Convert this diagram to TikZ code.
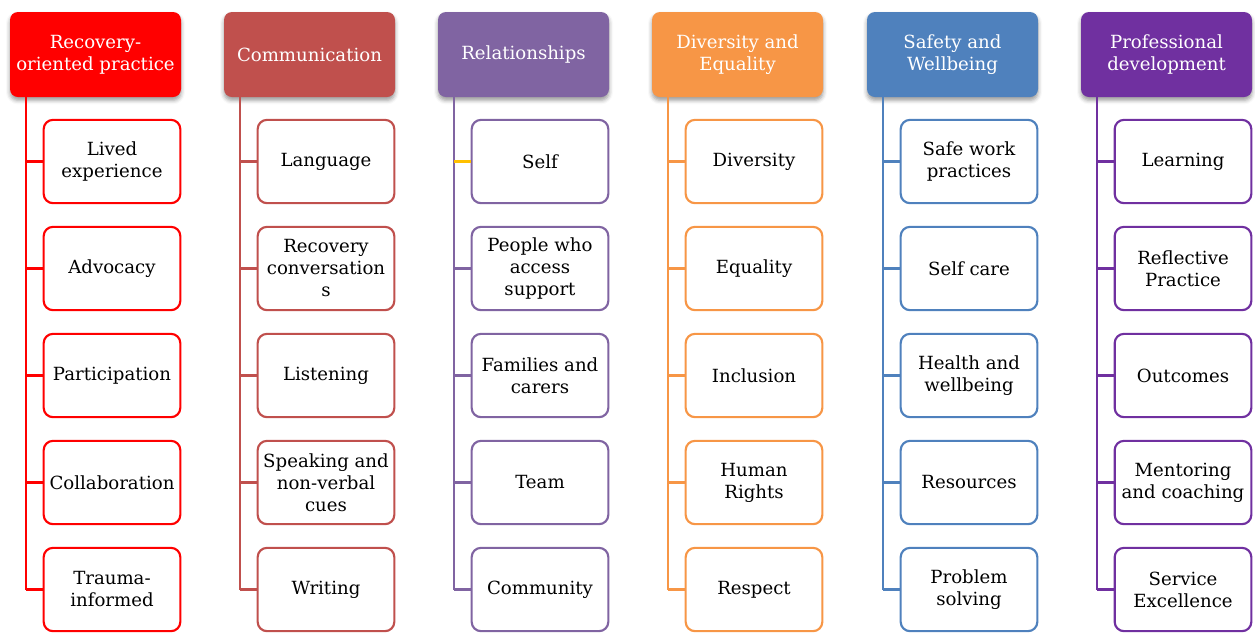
\documentclass[tikz,border=0pt]{standalone}
\usepackage{fontspec}
\setmainfont{DejaVu Serif}
\usetikzlibrary{shadows.blur}
\definecolor{colA}{HTML}{FF0000}
\definecolor{colB}{HTML}{C0504D}
\definecolor{colC}{HTML}{8064A2}
\definecolor{colD}{HTML}{F79646}
\definecolor{colE}{HTML}{4F81BD}
\definecolor{colF}{HTML}{7030A0}
\definecolor{branchY}{HTML}{FFC000}
\begin{document}
\begin{tikzpicture}[x=0.75pt,y=-0.75pt,
  head/.style={fill=#1, rounded corners=6pt, minimum width=128.25pt,
    minimum height=63.75pt, inner sep=0pt, align=center, text=white,
    font=\fontsize{13.6}{16.5}\selectfont,
    blur shadow={shadow xshift=0pt, shadow yshift=-2.5pt,
      shadow blur radius=3pt, shadow opacity=40}},
  item/.style={draw=#1, fill=white, line width=1.6pt, rounded corners=7pt,
    minimum width=102.5pt, minimum height=62.5pt, inner sep=0pt,
    align=center, text=black, font=\fontsize{13.6}{16.5}\selectfont},
  link/.style={draw=#1, line width=1.8pt}
]
\useasboundingbox (0,0) rectangle (1255,633);

% one column: header, trunk, five child boxes with branches
\newcommand{\column}[5]{%
  % #1 index, #2 left x, #3 colour, #4 header text, #5 children list
  \node[head=#3] (h#1) at ({#2+85.5},54.5) {#4};
  \coordinate (t#1) at ({#2+16},97);
  \foreach \t [count=\k] in {#5} {
    \node[item=#3] (c#1-\k) at ({#2+102},{161.5+107*(\k-1)}) {\t};
  }
  \draw[link=#3] (t#1) -- (t#1 |- c#1-5.west);
  \foreach \k in {1,...,5} {
    \draw[link=#3] (t#1 |- c#1-\k.west) -- (c#1-\k.west);
  }
}

\column{1}{10}{colA}{Recovery-\\oriented practice}
  {{Lived\\experience},Advocacy,Participation,Collaboration,{Trauma-\\informed}}
\column{2}{224}{colB}{Communication}
  {Language,{Recovery\\conversation\\s},Listening,{Speaking and\\non-verbal\\cues},Writing}
\column{3}{438}{colC}{Relationships}
  {Self,{People who\\access\\support},{Families and\\carers},Team,Community}
\column{4}{652}{colD}{Diversity and\\Equality}
  {Diversity,Equality,Inclusion,{Human\\Rights},Respect}
\column{5}{867}{colE}{Safety and\\Wellbeing}
  {{Safe work\\practices},{Self care},{Health and\\wellbeing},Resources,{Problem\\solving}}
\column{6}{1081}{colF}{Professional\\development}
  {Learning,{Reflective\\Practice},Outcomes,{Mentoring\\and coaching},{Service\\Excellence}}

% the branch to the first relationships box is drawn in amber
\draw[link=branchY] (t3 |- c3-1.west) -- (c3-1.west);
\end{tikzpicture}
\end{document}
